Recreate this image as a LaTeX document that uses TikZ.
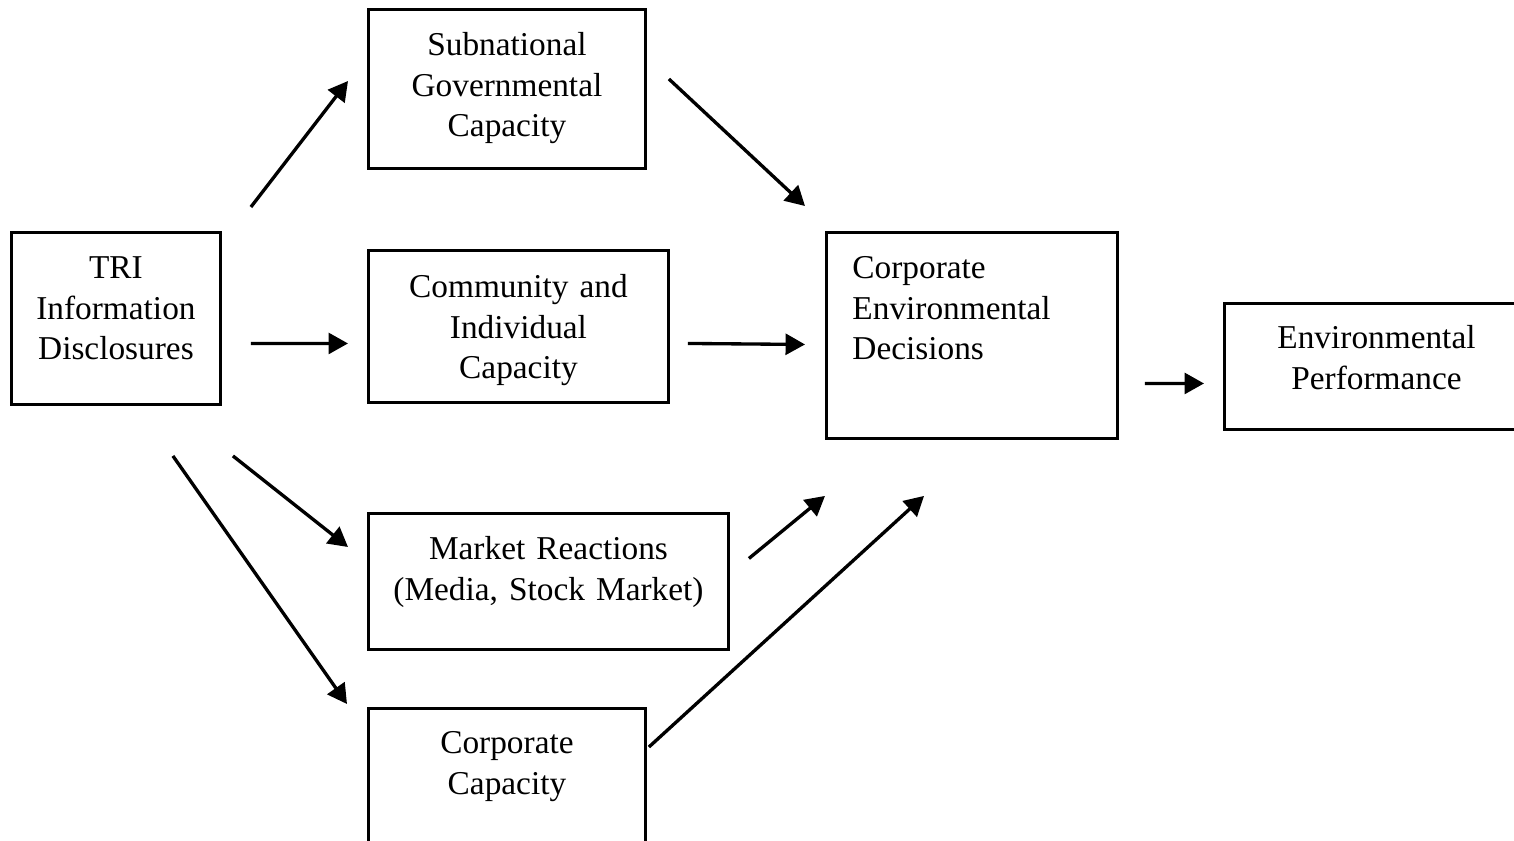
\documentclass[tikz,border=0pt]{standalone}
\usepackage{fontspec}
\setmainfont{Liberation Serif}
\usepackage{tikz}
\usetikzlibrary{arrows.meta}

\begin{document}
\begin{tikzpicture}[
    x=0.36pt, y=-0.36pt,
    box/.style={rectangle, draw, line width=1.05pt, inner sep=0pt, anchor=north west, align=center, font=\fontsize{12}{14.6}\selectfont},
    arrow/.style={-{Triangle[length=7pt, width=7.5pt]}, line width=1.2pt}
]
\useasboundingbox (0,0) rectangle (1514,840);

% Boxes
\node[box, minimum width=75.24pt, minimum height=61.92pt, text width=75.24pt, text height=16.56pt, text depth=45.36pt] (tri) at (10,231) {TRI\\Information\\Disclosures};
\node[box, minimum width=99.72pt, minimum height=57.24pt, text width=99.72pt, text height=16.56pt, text depth=40.68pt] (gov) at (367,8) {Subnational\\Governmental\\Capacity};
\node[box, minimum width=108pt, minimum height=54.72pt, text width=108pt, text height=16.92pt, text depth=37.8pt] (comm) at (367,249) {Community and\\Individual\\Capacity};
\node[box, minimum width=129.6pt, minimum height=48.96pt, text width=129.6pt, text height=16.56pt, text depth=32.4pt] (market) at (367,512) {Market Reactions\\(Media, Stock Market)};
\node[box, minimum width=99.72pt, minimum height=55.08pt, text width=99.72pt, text height=16.2pt, text depth=38.88pt] (corpcap) at (367,707) {Corporate\\Capacity};
\node[box, align=left, inner xsep=9.36pt, minimum width=104.76pt, minimum height=74.16pt, text width=86.04pt, text height=16.56pt, text depth=57.6pt] (ced) at (825,231) {Corporate\\Environmental\\Decisions};
\node[box, minimum width=109.44pt, minimum height=45.36pt, text width=109.44pt, text height=16.2pt, text depth=29.16pt] (perf) at (1223,302) {Environmental\\Performance};

% Arrows
\draw[arrow] ([shift={(29,-24)}]tri.north east) -- ([shift={(-19,73)}]gov.north west);
\draw[arrow] ([shift={(29,25)}]tri.east) -- ([shift={(-19,17)}]comm.west);
\draw[arrow] ([shift={(11,50)}]tri.south east) -- ([shift={(-19,35)}]market.north west);
\draw[arrow] ([shift={(-49,50)}]tri.south east) -- ([shift={(-20,-3)}]corpcap.north west);
\draw[arrow] ([shift={(22,71)}]gov.north east) -- ([shift={(-20,-25)}]ced.north west);
\draw[arrow] ([shift={(18,17)}]comm.east) -- ([shift={(-20,9)}]ced.west);
\draw[arrow] ([shift={(19,-23)}]market.east) -- ([shift={(0,56)}]ced.south west);
\draw[arrow] ([shift={(2,40)}]corpcap.north east) -- ([shift={(99,56)}]ced.south west);
\draw[arrow] ([shift={(26,48)}]ced.east) -- ([shift={(-19,17)}]perf.west);

\end{tikzpicture}
\end{document}
